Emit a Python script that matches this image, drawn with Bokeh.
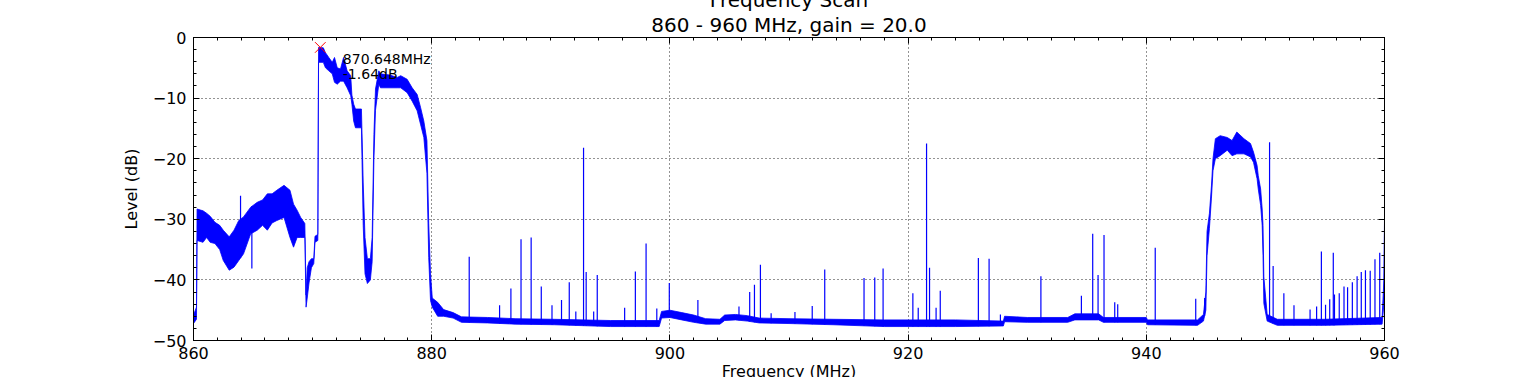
import numpy as np
from bokeh.plotting import figure
from bokeh.models import FixedTicker, Range1d, LinearAxis, Title, ColumnDataSource
from bokeh.embed import file_html
from bokeh.resources import INLINE
from bokeh.core.properties import value

# ---- data ----
freq = [860.0, 860.25, 860.3, 860.8, 861.1, 861.4, 861.8, 862.2, 862.5, 863.0, 863.4, 863.8,
        864.2, 864.8, 865.35, 865.8, 866.2, 866.6, 867.0, 867.6, 868.1, 868.4, 868.7, 869.0,
        869.35, 869.45, 869.55, 869.7, 869.9, 870.1, 870.2, 870.44, 870.5, 870.9, 871.08,
        871.36, 871.65, 871.84, 872.07, 872.34, 872.6, 872.9, 873.2, 873.3, 873.45, 873.6,
        874.1, 874.25, 874.4, 874.6, 874.85, 875.0, 875.15, 875.28, 875.56, 875.7, 876.5,
        877.1, 877.4, 877.94, 878.36, 878.78, 879.06, 879.34, 879.6, 879.75, 879.9, 880.05,
        880.5, 881.0, 881.8, 882.5, 884.7, 887.0, 890.3, 895.0, 899.1, 899.3, 900.0, 901.0,
        902.0, 903.0, 904.2, 904.6, 905.5, 906.5, 907.5, 910.0, 913.7, 918.0, 924.0, 928.0,
        928.1, 930.0, 933.4, 934.0, 936.0, 936.4, 940.0, 940.1, 944.3, 944.8, 945.0, 945.1,
        945.3, 945.47, 945.6, 945.8, 946.2, 946.8, 947.2, 947.6, 948.2, 948.75, 949.0, 949.3,
        949.4, 949.6, 949.73, 949.8, 949.87, 950.15, 951.0, 955.0, 959.8, 959.95, 960.0]
level_lo = [-47.2, -46.5, -33.5, -33.8, -33.0, -33.8, -34.0, -35.0, -36.8, -38.4, -37.9, -36.8,
            -35.7, -32.4, -31.8, -31.0, -31.8, -30.6, -30.2, -29.7, -33.0, -34.6, -33.0, -33.0,
            -33.0, -44.5, -43.0, -40.5, -38.0, -37.3, -33.8, -33.5, -4.1, -4.1, -5.0,
            -5.5, -6.0, -7.4, -7.7, -7.2, -7.2, -8.3, -9.6, -11.0, -13.8, -14.9,
            -14.9, -31.0, -39.0, -40.6, -40.0, -37.0, -20.0, -12.0, -7.7, -8.3, -8.3,
            -8.3, -8.3, -9.1, -10.5, -12.1, -14.3, -16.5, -22.4, -36.3, -43.4, -44.5,
            -46.0, -46.0, -46.3, -47.0, -47.1, -47.3, -47.4, -47.7, -47.7, -46.3, -46.2, -46.6,
            -47.0, -47.3, -47.3, -46.7, -46.6, -46.8, -47.1, -47.2, -47.4, -47.7, -47.7, -47.6,
            -46.9, -47.0, -47.0, -46.6, -46.6, -47.0, -47.0, -47.4, -47.5, -46.8, -45.0, -36.0,
            -31.5, -26.5, -22.0, -20.0, -19.5, -18.6, -19.5, -19.2, -19.2, -19.7, -20.6, -23.3,
            -25.0, -27.7, -31.0, -36.0, -43.9, -46.8, -47.5, -47.5, -47.3, -44.0, -32.0]
level_hi = [-45.8, -44.5, -28.3, -28.6, -29.0, -29.5, -30.5, -31.0, -31.8, -32.9, -31.8, -30.2,
            -29.6, -28.0, -27.2, -26.8, -25.8, -25.8, -25.2, -24.4, -25.2, -27.5, -28.5, -29.7,
            -30.7, -42.5, -38.0, -37.0, -36.5, -36.5, -32.8, -32.5, -1.65, -1.7, -2.5,
            -3.3, -4.1, -3.3, -5.0, -5.2, -3.3, -5.5, -6.3, -9.5, -11.0, -11.8,
            -11.8, -24.0, -33.0, -36.5, -36.5, -33.0, -16.0, -8.5, -5.5, -6.0, -6.2,
            -6.6, -6.3, -6.9, -8.3, -9.4, -11.5, -13.8, -17.0, -30.7, -39.0, -43.0,
            -43.7, -44.9, -45.4, -46.1, -46.2, -46.4, -46.5, -46.7, -46.7, -45.2, -45.0, -45.4,
            -45.8, -46.4, -46.5, -45.8, -45.7, -45.9, -46.3, -46.4, -46.5, -46.6, -46.6, -46.8,
            -46.0, -46.2, -46.2, -45.6, -45.6, -46.2, -46.2, -46.6, -46.6, -45.7, -42.0, -32.0,
            -29.0, -24.5, -20.0, -16.7, -16.2, -16.5, -17.0, -15.6, -16.7, -17.5, -18.9, -21.1,
            -22.8, -25.0, -28.3, -31.0, -39.5, -45.7, -46.5, -46.5, -46.2, -40.0, -30.0]

spike_freq = [863.95, 883.15, 885.7, 886.65, 887.5, 888.35, 889.2, 890.1, 890.9, 891.55, 892.1,
              892.75, 892.97, 893.6, 893.9, 896.2, 897.1, 898.0, 898.9, 899.95, 902.35, 905.8,
              906.7, 907.1, 907.6, 908.5, 910.5, 911.95, 913.0, 916.3, 917.2, 917.9, 920.4,
              920.85, 921.55, 921.8, 922.35, 922.7, 925.9, 926.8, 927.75, 931.15, 934.55, 935.5,
              935.95, 936.45, 937.35, 937.6, 940.75, 944.15, 944.9, 950.35, 950.65, 951.55, 952.4,
              953.75, 954.3, 954.7, 955.05, 955.4, 955.7, 955.8, 956.2, 956.6, 956.9, 957.3,
              957.7, 958.05, 958.4, 958.8, 959.2, 959.6]
spike_peak = [-26.1, -36.2, -44.2, -41.4, -33.3, -33.0, -41.1, -44.2, -43.3, -40.4, -45.2,
              -18.2, -38.7, -45.2, -39.2, -44.6, -38.6, -34.0, -44.7, -40.5, -43.3, -44.4,
              -42.0, -40.8, -37.5, -45.5, -45.3, -44.3, -38.3, -39.7, -39.6, -38.1, -42.2,
              -44.6, -17.5, -38.0, -44.6, -41.8, -36.4, -36.5, -45.7, -39.4, -42.6, -32.4,
              -39.2, -32.6, -43.7, -44.0, -34.7, -43.1, -43.0, -17.3, -37.7, -42.2, -44.2,
              -44.9, -44.4, -35.3, -44.1, -43.2, -35.5, -42.4, -42.2, -41.1, -41.2, -40.4,
              -39.4, -38.7, -38.4, -38.5, -36.6, -35.5]
dip_freq = [864.9]
dip_level = [-38.1]

peak_freq = 870.648
peak_level = -1.64
title_lines = ["Frequency Scan", "860 - 960 MHz, gain = 20.0"]
x_label = "Frequency (MHz)"
y_label = "Level (dB)"
x_ticks = [860, 880, 900, 920, 940, 960]
y_ticks = [-50, -40, -30, -20, -10, 0]

FONT = "DejaVu Sans"
BLUE = "#0000ff"
SHIFT = 40  # canvas rows above the window top (the reference's title is cut there)

p = figure(frame_width=1191, frame_height=303, x_range=Range1d(860, 960), y_range=Range1d(-50, 0),
           output_backend="svg", toolbar_location=None,
           min_border_left=193, min_border_right=153, min_border_top=37 + SHIFT, min_border_bottom=20,
           background_fill_color="white", border_fill_color="white")
p.styles = {"position": "relative", "top": "-%dpx" % SHIFT}
p.outline_line_color = "black"
p.outline_line_width = 1

xt = FixedTicker(ticks=x_ticks, minor_ticks=list(np.arange(860, 961, 2)))
yt = FixedTicker(ticks=y_ticks, minor_ticks=list(np.arange(-50, 1, 2)))

def style_axis(ax, ticker, labels=True):
    ax.ticker = ticker
    ax.axis_line_color = "black"
    ax.major_tick_in = 6
    ax.major_tick_out = 0
    ax.minor_tick_in = 3
    ax.minor_tick_out = 0
    ax.major_tick_line_color = "black"
    ax.minor_tick_line_color = "black"
    ax.major_label_text_font = FONT
    ax.major_label_text_font_size = "16px"
    ax.major_label_text_color = "black" if labels else None
    ax.axis_label_text_font = FONT
    ax.axis_label_text_font_size = "16px"
    ax.axis_label_text_font_style = "normal"
    ax.axis_label_text_color = "black"

style_axis(p.xaxis[0], xt)
style_axis(p.yaxis[0], yt)
p.xaxis[0].major_label_standoff = 6
p.xaxis[0].axis_label = x_label
p.xaxis[0].axis_label_standoff = 0
p.yaxis[0].major_label_standoff = 7
p.yaxis[0].axis_label = y_label
p.yaxis[0].axis_label_standoff = 9
p.yaxis[0].major_label_overrides = {t: (str(t).replace("-", "\u2212")) for t in y_ticks}

ax_top = LinearAxis()
style_axis(ax_top, xt, labels=False)
ax_top.major_label_text_font_size = "0px"
ax_top.major_label_standoff = 0
p.add_layout(ax_top, "above")
ax_right = LinearAxis()
style_axis(ax_right, yt, labels=False)
ax_right.major_label_text_font_size = "0px"
ax_right.major_label_standoff = 0
p.add_layout(ax_right, "right")

p.xgrid[0].ticker = xt
p.ygrid[0].ticker = yt
for g in (p.xgrid[0], p.ygrid[0]):
    g.grid_line_color = "black"
    g.grid_line_dash = "1 3"
    g.grid_line_width = 1
    g.grid_line_alpha = 0.85

# titles (second line closest to the frame)
p.add_layout(Title(text=title_lines[1], text_font=FONT, text_font_size="20px",
                   text_font_style="normal", align="center", standoff=2,
                   text_color="black"), "above")
p.add_layout(Title(text=title_lines[0], text_font=FONT, text_font_size="20px",
                   text_font_style="normal", align="center", standoff=-4,
                   text_color="black"), "above")

# trace band
src = ColumnDataSource(dict(f=freq, lo=level_lo, hi=level_hi))
p.varea(x="f", y1="lo", y2="hi", source=src, fill_color=BLUE)
p.line(x="f", y="lo", source=src, line_color=BLUE, line_width=0.8)
p.line(x="f", y="hi", source=src, line_color=BLUE, line_width=0.8)

# spikes
base = np.interp(spike_freq, freq, level_lo)
p.segment(x0=spike_freq, y0=base, x1=spike_freq, y1=spike_peak, line_color=BLUE, line_width=1.2)
dbase = np.interp(dip_freq, freq, level_hi)
p.segment(x0=dip_freq, y0=dbase, x1=dip_freq, y1=dip_level, line_color=BLUE, line_width=1.2)

# peak marker and annotation
p.scatter(x=[peak_freq], y=[peak_level], marker="x", size=15, line_color="red", line_width=1)
p.text(x=[peak_freq], y=[peak_level], text=["%.3fMHz" % peak_freq], x_offset=22.5, y_offset=11.5,
       text_font=value(FONT), text_font_size="14px", text_baseline="alphabetic",
       text_align="left", text_color="black")
p.text(x=[peak_freq], y=[peak_level], text=["%.2fdB" % peak_level],
       x_offset=22.5, y_offset=26.5,
       text_font=value(FONT), text_font_size="14px", text_baseline="alphabetic",
       text_align="left", text_color="black")

open("out.html", "w").write(file_html(p, INLINE))
